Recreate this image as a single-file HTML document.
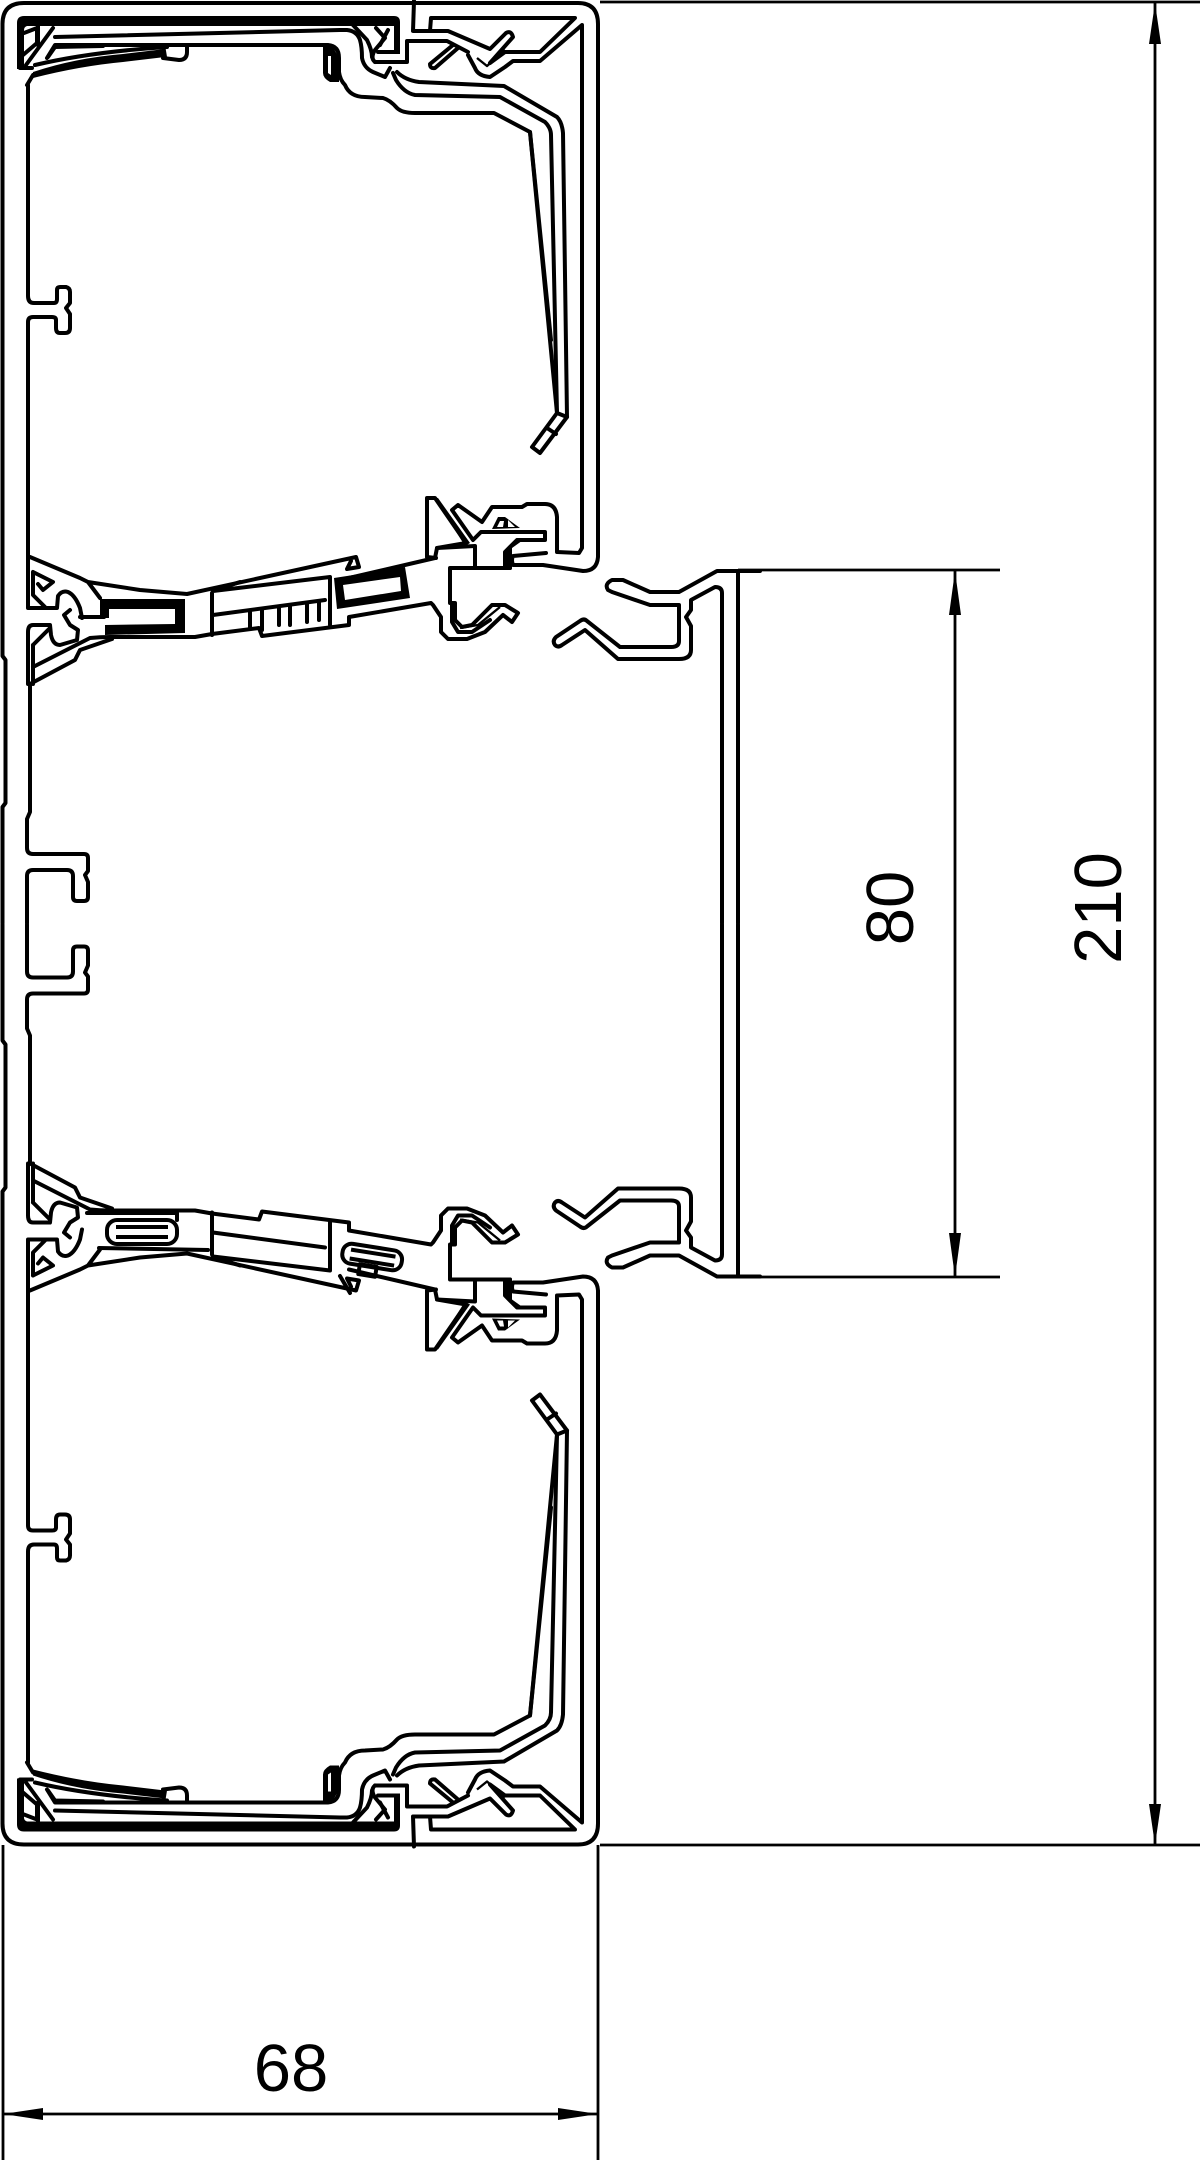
<!DOCTYPE html>
<html><head><meta charset="utf-8"><style>
html,body{margin:0;padding:0;background:#fff}
svg{display:block}
text{font-family:"Liberation Sans",sans-serif;font-size:67px;fill:#000}
.l{fill:none;stroke:#000;stroke-width:4;stroke-linejoin:round;stroke-linecap:round}
.t{fill:none;stroke:#000;stroke-width:2.8}
.k{fill:#000;stroke:none}
.w{fill:#fff;stroke:none}
.n{fill:none;stroke:#000;stroke-width:2.4;stroke-linejoin:round}
</style></head><body>
<svg xmlns="http://www.w3.org/2000/svg" width="1200" height="2160" viewBox="0 0 1200 2160">
<defs>
<g id="half">
  <!-- outer wall -->
  <path class="l" d="M2.5,923 V807 L5.5,803 V660 L2.5,656 V24 Q2.5,3 24,3 H578 Q598,3 598,24 V557 Q597,571 583,571 L543,565 H513 Q511,560 513,556 L546,553"/>
  <path class="l" d="M582,490 V25 L540,61 H513 L505,67 L490,77 Q478,76 475,68 L468,55"/>
  <path class="l" d="M582,490 V548 L579,553 L557,552 V517 Q556,504 545,504 H527 L522,507 H492 L482,522 L458,505 L452,510 L473,540 L481,532 H545"/>
  <path class="l" d="M414,1 L413,31 H430 L431,18 H575 L540,52 H505 L490,63 L513,37 Q511,30 506,33 L490,49 L448,31 H430"/>
  <path class="l" d="M375,62 H407 V41 H447 L468,52"/>
  <path class="l" d="M458,48 L435,68 Q430,69 430,64 L453,45"/>
  <path class="n" d="M477,58 L487,66 L505,50"/>
  <!-- latch block top -->
  <path class="k" d="M24,16 H394 Q400,16 400,22 V54 L394,54 V26 H27 Q24,27 24,30 V69 H17 V23 Q17,16 24,16Z"/>
  <path class="l" d="M395,52 H378"/>
  <path class="l" d="M375,62 Q370,58 375,50 L385,38 L376,28"/>
  <path class="l" d="M26,65 L53,28 M38,26 V45 M20,68 H32"/>
  <path class="l" d="M23,55 L37,43 V28 L24,33"/>
  <!-- cover lines -->
  <path class="l" d="M55,37 L340,30 H347 Q357,31 360,40 Q362,47 362,58 Q364,68 373,72 L385,77 L390,68"/>
  <path class="l" d="M353,25 L367,40 Q372,50 372,57 M388,30 L380,45"/>
  <path class="l" d="M47,58 L55,45 H328 Q339,46 339,58 V72 Q340,80 345,85 Q350,97 365,97 L383,98 Q390,100 397,108 Q402,113 415,113 L494,113 L530,132 L557,413 L567,417 L563,133 Q562,122 557,117 L504,86 L419,82 Q405,80 397,72"/>
  <path class="l" d="M393,73 L396,80 Q404,93 415,95 L500,97 L545,122 Q551,128 551,135 L557,413 L532,447 L540,453 L567,417"/>
  <path class="l" d="M530,132 L551,340"/>
  <path class="l" d="M547,428 L556,434"/>
  <path class="k" d="M323,47 H333 L339,58 V82 H330 Q323,78 323,73Z"/>
  <path class="w" d="M328,56 L331,56 V75 L328,73Z"/>
  <!-- left cover arcs -->
  <path class="k" d="M33,72 Q75,58 123,54 L165,49 V57 L123,62 Q80,66 33,78Z"/>
  <path class="l" d="M163,45 L165,57 M187,47 V52 Q187,60 179,60 L163,58"/>
  <path class="l" d="M35,65 Q90,52 167,47 M48,57 L55,47 L103,46"/>
  <path class="l" d="M27,85 L33,75"/>
  <!-- wall + T stub -->
  <path class="l" d="M28,85 V296 Q28,303 34,303 H54 Q57,303 57,299 V290 Q57,287 60,287 H66 Q70,288 70,292 V303 L66,308 L70,314 V328 Q70,333 65,333 H60 Q56,333 56,328 V320 Q56,317 52,317 H33 Q28,317 28,322 V557"/>
  <!-- central stub -->
  <path class="l" d="M30,684 V812 L27,819 V848 Q27,854 33,854 H84 Q88,854 88,858 V871 L85,875 L88,882 V897 Q88,901 84,901 H77 Q73,901 73,897 V876 Q73,870 67,870 H33 Q27,870 27,876 V923"/>
  <!-- knot -->
  <path class="l" d="M30,557 L80,578 L88,582 L140,590 L187,594 L356,557 L359,567 L347,569 L351,561 M88,582 L100,598"/>
  <path class="l" d="M28,557 V608 H57 L58,596 Q62,590 68,592 Q75,595 80,608 L82,618 M70,610 L64,615 L70,625 L78,630 L77,640 L60,645 Q53,645 51,635 L50,625 H33 Q28,625 28,632 V684"/>
  <path class="l" d="M33,572 L53,582 L43,590 L38,584 M33,572 V595 L45,607"/>
  <path class="l" d="M33,667 L90,638 Q100,637 110,637 L195,637 L212,634 L259,628 L262,636 L349,625 V617 L431,603 L433,605 L441,617 V632 L448,639 H467 L485,632 L503,615 L512,622 L518,613 L505,605 H492 L472,625 L462,627 L455,620 V603 H450 V568 H475 V546 L437,548 L435,558 L349,578"/>
  <path class="l" d="M30,684 L75,660 L80,650 L112,639 M33,645 L50,628 M33,645 V684"/>
  <path class="l" d="M427,557 V498 H435 L466,543 L437,548 M427,557 L436,558"/>
  <path class="k" d="M435,498 H438 L470,543 L465,546 Z"/>
  <path class="l" d="M475,568 H510 L505,566 V552 L517,540 H545 V533"/>
  <path class="k" d="M505,552 L517,538 H526 L512,548 L512,568 H505Z"/>
  <path class="l" d="M510,568 V560"/>
  <path class="l" d="M452,605 V622 L458,632 H472 L490,620"/>
  <path class="n" d="M460,628 L478,625 L500,607"/>
  <path class="k" d="M492,529 L498,517 H505 L520,528 Z"/>
  <path class="w" d="M500,521 L504,521 L503,527 H497Z M508,520 L515,527 H508Z"/>
  <!-- bridge -->
  <path class="l" d="M212,593 V635 M213,591 L330,577 M330,577 V625 M213,615 L325,600 M240,582 L213,591"/>
  <!-- right channel -->
  <path class="l" d="M760,571 H717 L679,592 H650 L623,580 H612 Q604,584 608,590 L612,592 L650,605 H679 V641 Q679,647 671,647 H620 L587,621 Q584,618 580,621 L556,637 Q552,641 555,645 Q558,648 562,645 L585,630 L618,659 H679 Q691,659 691,650 V626 L686,617 L691,610 V600 L715,587 Q722,587 722,593 V923"/>
  <path class="l" d="M738,571 V923"/>
</g>
</defs>
<use href="#half"/>
<use href="#half" transform="translate(0,1847.5) scale(1,-1)"/>

<!-- top details -->
<path class="k" fill-rule="evenodd" d="M100,599 H185 V633 L105,635 V625 L175,624 V609 H109 V618 H100Z"/>
<path class="l" d="M80,617 H104"/>
<path class="k" fill-rule="evenodd" d="M334,578 L405,567 L410,598 L337,609Z M343,585 L345,600 L401,591 L400,577Z"/>
<path class="l" d="M250,612 V628 M262,610 V630 M279,608 V625 M290,606 V625 M307,603 V622 M319,601 V620"/>
<!-- bottom details -->
<path class="l" d="M87,1213 H177 V1220 M99,1248 L208,1250 M340,1276 L350,1293"/>
<rect class="l" x="107" y="1220" width="70" height="24" rx="10"/>
<path class="k" d="M116,1225 H168 V1229 H116Z M116,1235 H168 V1239 H116Z"/>
<g transform="rotate(9 372 1258)">
  <rect class="l" x="342" y="1247" width="60" height="20" rx="9"/>
  <path class="k" d="M350,1251 H395 V1255 H350Z M350,1260 H395 V1264 H350Z"/>
  <rect class="l" x="361" y="1266" width="17" height="10"/>
</g>

<!-- dimensions -->
<path class="t" d="M600,2 H1200 M600,1845 H1200 M738,570 H1000 M738,1277 H1000 M1155,3 V1845 M955,571 V1277 M3,1845 V2160 M598,1845 V2160 M3,2114 H598"/>
<path class="k" d="M1155,3 L1149,44 H1161Z M1155,1845 L1149,1804 H1161Z M955,571 L949,615 H961Z M955,1277 L949,1233 H961Z M3,2114 L43,2108 V2120Z M598,2114 L558,2108 V2120Z"/>
<text x="291" y="2091" text-anchor="middle">68</text>
<text transform="translate(913,908) rotate(-90)" text-anchor="middle">80</text>
<text transform="translate(1121,908) rotate(-90)" text-anchor="middle">210</text>
</svg>
</body></html>
